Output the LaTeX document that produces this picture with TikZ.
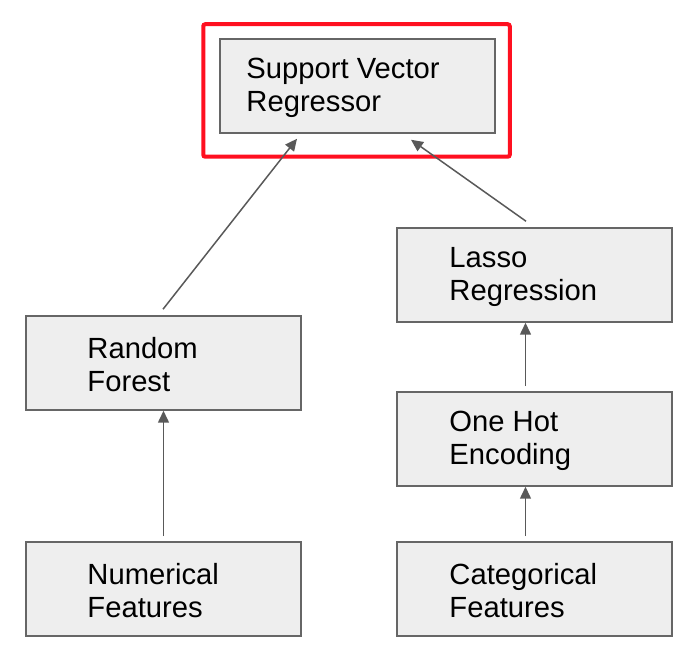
\documentclass[tikz,border=0pt]{standalone}
\usepackage{fontspec}
\setmainfont{Liberation Sans}
\usepackage{xcolor}
\usetikzlibrary{positioning, arrows.meta}

\definecolor{boxfill}{HTML}{EEEEEE}
\definecolor{boxline}{HTML}{666666}
\definecolor{arrowgray}{HTML}{595959}
\definecolor{hlred}{RGB}{255,16,32}

\begin{document}
\begin{tikzpicture}[x=1pt, y=1pt,
  box/.style={draw=boxline, line width=1.5pt, fill=boxfill, rectangle, minimum width=275pt, minimum height=94pt, inner sep=0pt},
  txt/.style={inner sep=0pt, align=left, yshift=-1.5pt, font=\fontsize{29.2pt}{33pt}\selectfont},
  highlight/.style={draw=hlred, line width=4pt, rounded corners=2pt},
  arrow/.style={draw=arrowgray, line width=1.5pt, -{Triangle[length=12pt, width=11pt]}}
]
\useasboundingbox (0,0) rectangle (690,660);

% Nodes
\node[box] (num) at (163.5,71) {};
\node[box, right=94.5pt of num] (cat) {};
\node[box, above=54.5pt of cat] (onehot) {};
\node[box, above=68.5pt of onehot] (lasso) {};
\node[box, above=130.5pt of num] (rf) {};
\node[box] (svr) at (357.5,574) {};

% Texts
\node[txt, right=27pt of svr.west, anchor=west] (svrtext) {Support Vector\\Regressor};
\node[txt, right=53pt of lasso.west, anchor=west] (lassotext) {Lasso\\Regression};
\node[txt, right=53pt of onehot.west, anchor=west] (onehottext) {One Hot\\Encoding};
\node[txt, right=53pt of cat.west, anchor=west] (cattext) {Categorical\\Features};
\node[txt, right=62pt of rf.west, anchor=west] (rftext) {Random\\Forest};
\node[txt, right=62pt of num.west, anchor=west] (numtext) {Numerical\\Features};

% Highlight
\draw[highlight] ([shift={(-16,14)}]svr.north west) rectangle ([shift={(14,-23)}]svr.south east);

% Arrows
\draw[arrow] ([yshift=5pt]num.north) -- (rf.south);
\draw[arrow] ([shift={(-9,5)}]cat.north) -- ([xshift=-9pt]onehot.south);
\draw[arrow] ([shift={(-9,5)}]onehot.north) -- ([xshift=-9pt]lasso.south);
\draw[arrow] ([shift={(-0.5,6)}]rf.north) -- ([shift={(-60.5,-5)}]svr.south);
\draw[arrow] ([shift={(-8.5,6)}]lasso.north) -- ([shift={(53.5,-6)}]svr.south);

\end{tikzpicture}
\end{document}
